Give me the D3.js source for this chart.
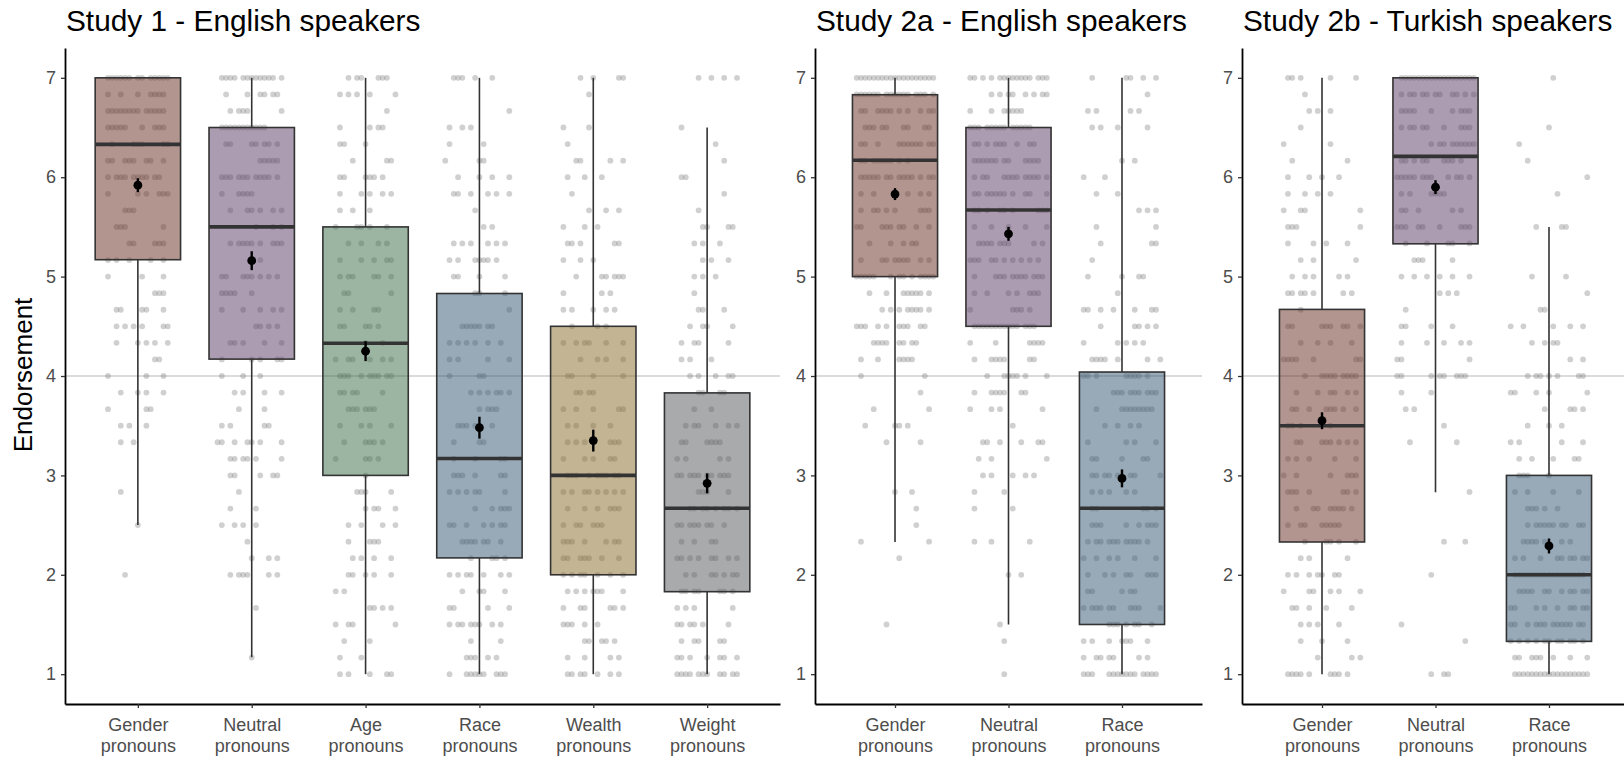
<!DOCTYPE html>
<html><head><meta charset="utf-8">
<script src="https://cdn.jsdelivr.net/npm/d3@7"></script>
<style>
body{margin:0;background:#fff;}
text{font-family:"Liberation Sans",Arial,Helvetica,sans-serif;}
</style>
</head><body>
<svg id="chart" width="1624" height="760"></svg>
<script>
// ---------------- DATA ----------------
const yTicks = [1, 2, 3, 4, 5, 6, 7];
const referenceValue = 4;
const yAxisTitle = "Endorsement";
const panelTitles = ["Study 1 - English speakers", "Study 2a - English speakers", "Study 2b - Turkish speakers"];

const categories1 = ["Gender pronouns", "Neutral pronouns", "Age pronouns", "Race pronouns", "Wealth pronouns", "Weight pronouns"];
const categories2a = ["Gender pronouns", "Neutral pronouns", "Race pronouns"];
const categories2b = ["Gender pronouns", "Neutral pronouns", "Race pronouns"];

// box statistics (Study 1)
const q3Study1 = [7.0, 6.5, 5.5, 4.83, 4.5, 3.83];
const medianStudy1 = [6.33, 5.5, 4.33, 3.17, 3.0, 2.67];
const q1Study1 = [5.17, 4.17, 3.0, 2.17, 2.0, 1.83];
const whiskerHighStudy1 = [7, 7, 7, 7, 7, 6.5];
const whiskerLowStudy1 = [2.5, 1.17, 1, 1, 1, 1];
const meanStudy1 = [5.92, 5.16, 4.25, 3.48, 3.35, 2.92];
const seStudy1 = [0.07, 0.095, 0.1, 0.11, 0.11, 0.1];

// Study 2a
const q3Study2a = [6.83, 6.5, 4.04];
const medianStudy2a = [6.17, 5.67, 2.67];
const q1Study2a = [5.0, 4.5, 1.5];
const whiskerHighStudy2a = [7, 7, 7];
const whiskerLowStudy2a = [2.33, 1.5, 1];
const meanStudy2a = [5.83, 5.43, 2.97];
const seStudy2a = [0.06, 0.07, 0.09];

// Study 2b
const q3Study2b = [4.67, 7.0, 3.0];
const medianStudy2b = [3.5, 6.21, 2.0];
const q1Study2b = [2.33, 5.33, 1.33];
const whiskerHighStudy2b = [7, 7, 5.5];
const whiskerLowStudy2b = [1, 2.83, 1];
const meanStudy2b = [3.55, 5.9, 2.29];
const seStudy2b = [0.085, 0.07, 0.075];

const categoryColors = {Gender: "#672b1f", Neutral: "#573963", Age: "#396b45", Race: "#315371", Wealth: "#876b27", Weight: "#515557"};

// Raw responses: row i = response value 7 - i/6 (7 down to 1); numbers = jitter slot (0..20, 10 = centre)
const dotsGender1 = [[3,4,5,6,7,8,10,11,13,14,15,16,17],[3,6,10,13,14,15,16],[3,4,5,6,7,8,9,10,12,13,14,15,16],[3,4,5,6,7,11,14,15,16],[4,9,10,11,16,17],[3,4,7,8,9,12,13,16],[3,5,6,7,9,10,11,12,14,15],[3,10,12,15,16,17],[7,8,9],[5,6,7,16],[8,9,14,15,16],[3,5,8,13,16],[3,11,16],[14,15,16],[5,6,11,12,16],[5,7,9,11,16,17],[5,10,12,14,17],[14,15],[3,12,16],[6,10,12,16],[3,12,13],[6,8,12],[6,9],[],[],[6],[],[10],[],[],[7],[],[],[],[],[],[]];
const dotsNeutral1 = [[3,4,5,6,8,9,10,11,12,13,14,15,17],[4,9,12,13,15,16],[5,7,8,9,17],[3,4,5,6,7,8,9,10,11,12,13],[4,5,10,11,13,14,16],[12,13,14,15,16],[3,4,5,7,8,9,11,12,13,14,16],[3,7,8,9,10],[5,9,10,12,15,17],[11,15,17],[5,7,8,9,10,12,15,16,17],[12],[3,4,8,9,10,12,14,16],[3,4,5,6,10],[3,8,12,15,17],[11,12,14,16],[5,6,8,13,17],[3,10,12,16,17],[3,8,12],[6,8,13,17],[7,13],[3,5,13,14],[2,3,6,9,10,12,17],[5,6,8,9,11,17],[5,6,12,15,16],[7],[5,11],[3,6,8,11],[9],[10,14,16],[5,7,8,9,14,16],[],[11],[],[],[10],[]];
const dotsAge1 = [[6,8,9,13,14,15],[4,6,8,11,17],[15],[4,11,13,14],[4,5,10],[7,15,16],[4,5,10,11,12,14],[4,9,11,14,16],[4,7,11],[3,8,9,11,15],[6,9,13,15],[4,9,12,15,16],[4,6,7,12,13,16],[5,6,16],[4,7,12,13],[4,5,10,11,13],[10,14],[3,6,7,11,14,16],[4,5,6,9,11,12,13,15,16],[4,5,7,8,14],[6,7,8,10,11,12],[4,9,11,16],[5,10,11,12,14],[3,10,11,13],[10],[8,9,10,16],[10,12,13,17],[6,9,14,17],[6,11,12,13],[7,9,12,16],[6,7,10,12,16],[3,5],[11,12,14,16],[3,6,7,17],[5,11],[4,9],[4,6,11,15,16]];
const dotsRace1 = [[4,5,6,9,13],[],[17],[3,6,8],[3,11],[2,10,11],[5,10,13,17],[4,5,8,12,14,17],[9],[11,13],[4,6,8,12,14,16],[3,5,9,10,11,12,14],[4,5,10,16],[9,10,16],[17],[6,7,8,9,10,12,13],[3,5,7,9,12,15],[3,5,12,17],[3,10,11],[8,10,12,14,15,17],[10,12,13,14],[5,6,7,9,13],[4,10,11],[4,9,15,16],[4,5,6,9,15,16],[3,5,7,9,10,16],[9,13,15,16,17],[3,4,7,11,13,15,16],[6,7,8,9,11,12,15],[8,13,14,16],[3,5,7,8,11,15,17],[6,10,11,16],[3,4,12,17],[3,5,6,8,9,10,13,15],[8,15],[7,8,9,12,14],[3,7,8,9,10,11,14,15,16]];
const dotsWealth1 = [[7,10,16,17],[9],[],[3,9],[4],[6,7,14,17],[4,8,12],[5],[9,13,16],[3,8,11],[4,5,7,15,16],[3,7,10],[6,12,13,15,16,17],[3,12,14],[3,5,10,13,15],[5,11,13],[3,6,8,9,13,17],[7,11,13,17],[4,5,10,17],[6,7,9,10],[3,6,10,16,17],[4,6,10,14],[4,6,8,14,15,16],[3,8,10,14,15],[4,5,6,9,11,12,13,15,16],[3,5,8,9,11,13,15,17],[4,8,11,14,15,16],[3,6,7,10,11,12],[3,4,5,8,13,15,16],[3,4,7,8,9,12,16],[3,5,7,8,11,14,17],[4,6,8,10,11,12,17],[3,7,8,14,15,17],[3,4,5,8,11],[8,9,12,13,15],[4,8,14,16],[4,5,7,8,11,14,16]];
const dotsWeight1 = [[8,11,14,17],[],[],[4],[12],[14],[4,5],[14],[8],[9,10,15,16],[7,9,13],[9,11,15],[7,9,12],[7],[8,9,14],[6,9,10,16],[4,7,8,15],[4,6,11],[6,8,12,15,16],[8,9,13,14],[7,11],[5,7,8,12,15,17],[4,5,10,11,12,13],[3,5,13,15],[3,4,6,7,8,10,11,13,14,15],[8,9,10,15],[6,7,9,10,12,14,15,17],[3,4,6,7,8,10,11,14],[4,7,11,12],[3,4,6,8,11,12,15,17],[5,7,11,12,14,16,17],[4,5,7,8,13,14,16],[3,5,7,16],[3,4,6,7,9,15],[4,7,8,13,14],[3,4,6,10,13,14,17],[3,4,5,6,8,9,10,13,14,16,17]];

const dotsGender2a = [[1,2,3,4,5,6,7,8,9,10,11,12,13,14,15,16,17,18,19],[1,2,3,4,5,6,8,9,10,11,12,13,15,16,17,19],[2,3,6,7,8,9,11,13,16,18,19],[3,4,5,7,8,12,13,17,18],[2,3,6,11,12,13,14,15,16,18,19],[2,3,5,6,7,8,9,11,13],[2,3,4,5,6,8,9,11,12,13,14,16,18,19],[2,5,10,13,16,18],[2,5,6,8,10,16,17,18],[1,2,7,8,9,11,12,15,18],[4,9,12,14,15],[2,7,8,10,11,12,13,16,18],[1,2,3,4,5,9,11,12,14,16,17,18,19],[4,8,12,13,14,15,16,18],[7,9,11,13,14,15,16,18],[1,2,3,6,8,11,12,13,16,17],[5,6,7,8,11,12,14,15],[2,6,11,12,13,14],[2,17],[16],[5,18],[3,10,11,13],[8,16],[],[],[10,14],[15],[15],[2,18],[11],[],[],[],[8],[],[],[]];
const dotsNeutral2a = [[1,2,4,6,8,9,10,11,12,13,14,15,17,18,19],[6,8,10,11,14,16,18,19],[1,6,9,10,11,12,13],[1,2,3,5,6,7,8,9,11,12,13,14,15],[2,3,5,7,8,9,12,15,16],[2,3,4,5,6,7,9,10,14,15,16,17],[2,4,5,9,10,11,12,14,15,16,17,19],[2,3,5,6,7,8,9,11,14,15,19],[2,3,5,8,9,11,17,18,19],[2,6,10,14,19],[3,4,5,6,8,9,10,16,18],[1,2,3,6,7,9,11,13,15,17],[2,7,8,9,11,12,13,14,16,17,18],[2,5,10,12,15,16,17],[1,11,12,13,15],[2,3,4,5,6,7,8,9,10,11,12,14,15,16],[1,7,15,16,17,18],[2,6,7,8,9,15,16],[5,9,10,11,12,14,19],[2,6,7,8,9,13,14],[1,6,8,18],[11],[4,5,8,13,17,18],[3,6,19],[4,6,11,14,16],[2,9],[2,11],[],[2,6,15],[],[10,13],[],[],[8],[9],[],[9]];
const dotsRace2a = [[3,11,12,15,18],[16],[2,4,12,14],[3,5,9,16],[],[10,13],[1,6],[4,9],[14,16,18],[4,18],[5,17,18],[3],[2,10,14,15],[9],[1,2,5,8,13,17,18],[5,13,14,16,18],[1,9,11,13,15],[3,4,5,6,9,16,19],[1,2,4,11,12,13,14,16],[8,9,10,12,13,14,16,17,18],[4,10,11,12,13,14,15,16,17],[6,9,12,14],[2,11,13,18],[3,4,10,15,16],[3,4,6,7,9,12,13,19],[3,5,7,11,13],[3,4,15,16,18],[3,4,5,11,14,16,17,18],[2,4,5,7,8,9,11,12,13,14,16],[1,4,7,9,13,18],[2,6,8,11,12,16,17,18],[2,3,10,12,13],[1,3,4,5,7,8,12,13,14,19],[7,8,9,11,13,14,17],[1,3,7,10,11,12,16],[1,4,5,7,8,14,16],[1,2,3,7,8,9,10,11,12,13,15,16,17,18]];

const dotsGender2b = [[2,3,5,12,18],[6],[7,9,12],[5],[1,12],[3,16],[2,7,10,14],[2,6,9,12],[1,5,6,19],[2,3,4,19],[2,8,11,16],[5,8,18],[3,6,8,14,16],[2,3,5,6,8,15,17],[5],[2,3,10,11,12,15,16,19],[5,9,12,17],[1,2,3,4,8,18,19],[6,10,11,12,13,15,16,17,18],[4,9,12,13,16,18],[3,4,7,11,12,13,15,18],[2,3,5,12],[4,5,10,11,12,14,16,18],[2,4,7,13,18],[1,4,12,16,17,18],[2,3,4,7,15,16,18],[4,8,9,12,13,14,15,17],[2,5,6,10,11,12,13,14],[6,11,12,14,18],[5,7,16],[2,4,7,9,10,13,14],[1,7,8,12,14,19],[3,4,7,11,17],[5,7,9,14],[5,10,16],[9,17,19],[2,3,4,5,7,12,13,14,16]];
const dotsNeutral2b = [[2,3,4,5,6,7,8,9,10,11,12,13,14,15,16,17,18,19],[2,4,5,7,8,10,11,14,15,17,19],[2,3,4,5,9,14,16,17,18],[2,4,5,7,8,12,16,17,18],[9,11,12,14,15,16,17,18,19],[2,3,5,7,8,12,13,14,16],[1,2,3,4,5,7,8,9,13,15,16,18],[2,4,9,10,11,12],[2,3,6,14,16],[1,2,3,6,7,11,16,17,18],[3,8,13,14,18],[5,6,7,14],[2,5,8,11,14,18],[11,13,15],[3],[2,3,9,14],[2,8,12,16,18],[1,2,18],[1,2,9,11,12,15,16,17],[2,9],[3,5],[12],[4,15],[],[],[18],[],[],[12,17],[],[9],[],[],[2],[17],[],[9,12,13]];
const dotsRace2b = [[11],[],[],[10],[3],[5],[19],[12],[],[7,13,14],[],[],[6,14],[19],[8,9],[1,4,11,15,18],[6,9,11,12],[15,18],[5,7,8,10,12,17,18],[1,2,7,10,19],[9,15,16,18],[5,10,13],[1,3,13,18],[3,6,11,16,17],[3,4,5,10],[2,5,11,17],[5,6,7,9,12],[5,7,8,9,10,11,13,14,17,18],[4,5,6,7,9,13,15],[2,4,8,12,13,15,16,18,19],[2,3,4,5,6,7,8,9,10,11,12,13,14,15,16,17,18],[3,4,5,6,9,10,13,15,16,18,19],[1,2,7,9,12,15,16,18,19],[1,2,5,7,8,9,11,12,13,14,15,17,18],[1,3,5,7,9,10,12,13,15,16,18],[2,3,6,7,8,11,15,19],[2,3,4,5,6,7,8,9,10,11,12,13,14,15,16,17,18,19]];

// ---------------- BUILD ----------------
function buildRows(cats, q1, med, q3, wl, wh, mean, se, dots) {
  return cats.map((c, i) => ({cat: c, key: c.split(" ")[0], q1: q1[i], median: med[i], q3: q3[i],
    low: wl[i], high: wh[i], mean: mean[i], se: se[i], dots: dots[i]}));
}
const panels = [
  {title: panelTitles[0], x0: 65, x1: 780, pad: 0.64,
   rows: buildRows(categories1, q1Study1, medianStudy1, q3Study1, whiskerLowStudy1, whiskerHighStudy1, meanStudy1, seStudy1,
     [dotsGender1, dotsNeutral1, dotsAge1, dotsRace1, dotsWealth1, dotsWeight1])},
  {title: panelTitles[1], x0: 815, x1: 1202, pad: 0.705,
   rows: buildRows(categories2a, q1Study2a, medianStudy2a, q3Study2a, whiskerLowStudy2a, whiskerHighStudy2a, meanStudy2a, seStudy2a,
     [dotsGender2a, dotsNeutral2a, dotsRace2a])},
  {title: panelTitles[2], x0: 1242, x1: 1629, pad: 0.705,
   rows: buildRows(categories2b, q1Study2b, medianStudy2b, q3Study2b, whiskerLowStudy2b, whiskerHighStudy2b, meanStudy2b, seStudy2b,
     [dotsGender2b, dotsNeutral2b, dotsRace2b])}
];

const svg = d3.select("#chart");
const yTop = 48, yBottom = 704;
const y = d3.scaleLinear().domain([0.7, 7.3]).range([yBottom, yTop]);

svg.append("text").attr("transform", `translate(32,${(yTop + yBottom) / 2 - 1}) rotate(-90)`)
  .attr("text-anchor", "middle").attr("font-size", 26).attr("fill", "#000").text(yAxisTitle);

panels.forEach(p => {
  const x = d3.scalePoint().domain(p.rows.map(r => r.cat)).range([p.x0, p.x1]).padding(p.pad);
  const step = x.step();
  const boxW = 0.75 * step, hw = boxW / 2;
  const g = svg.append("g");

  // title
  g.append("text").attr("x", p.x0 + 1).attr("y", 31).attr("font-size", 29.8).attr("fill", "#000").text(p.title);

  // reference line
  g.append("line").attr("x1", p.x0).attr("x2", p.x1).attr("y1", y(referenceValue)).attr("y2", y(referenceValue))
    .attr("stroke", "#b8b8b8").attr("stroke-width", 1.1);

  // dots
  const pts = [];
  p.rows.forEach(r => {
    r.dots.forEach((slots, i) => {
      const v = 7 - i / 6;
      slots.forEach(s => pts.push({x: x(r.cat) + (s - 10) / 10 * hw, v}));
    });
  });
  g.append("g").selectAll("circle").data(pts).join("circle")
    .attr("cx", d => d.x).attr("cy", d => y(d.v)).attr("r", 2.9)
    .attr("fill", "#8a8a8a").attr("fill-opacity", 0.4);

  const b = g.append("g").selectAll("g").data(p.rows).join("g");
  // whiskers
  b.append("line").attr("x1", d => x(d.cat)).attr("x2", d => x(d.cat))
    .attr("y1", d => y(d.q3)).attr("y2", d => y(d.high)).attr("stroke", "#333").attr("stroke-width", 1.6);
  b.append("line").attr("x1", d => x(d.cat)).attr("x2", d => x(d.cat))
    .attr("y1", d => y(d.q1)).attr("y2", d => y(d.low)).attr("stroke", "#333").attr("stroke-width", 1.6);
  // boxes
  b.append("rect").attr("x", d => x(d.cat) - hw).attr("width", boxW)
    .attr("y", d => y(d.q3)).attr("height", d => y(d.q1) - y(d.q3))
    .attr("fill", d => categoryColors[d.key]).attr("fill-opacity", 0.5)
    .attr("stroke", "#333").attr("stroke-width", 1.6);
  // median
  b.append("line").attr("x1", d => x(d.cat) - hw).attr("x2", d => x(d.cat) + hw)
    .attr("y1", d => y(d.median)).attr("y2", d => y(d.median)).attr("stroke", "#333").attr("stroke-width", 3.6);
  // mean + error bar
  b.append("line").attr("x1", d => x(d.cat)).attr("x2", d => x(d.cat))
    .attr("y1", d => y(d.mean - d.se)).attr("y2", d => y(d.mean + d.se)).attr("stroke", "#000").attr("stroke-width", 2.4);
  b.append("circle").attr("cx", d => x(d.cat)).attr("cy", d => y(d.mean)).attr("r", 4.4).attr("fill", "#000");

  // axes
  const ya = g.append("g").attr("transform", `translate(${p.x0},0)`)
    .call(d3.axisLeft(y).tickValues(yTicks).tickSize(4).tickSizeOuter(0).tickPadding(5).tickFormat(d3.format("d")));
  ya.select(".domain").attr("stroke", "#000").attr("stroke-width", 1.8);
  ya.selectAll(".tick line").attr("stroke", "#333").attr("stroke-width", 1.3);
  ya.selectAll(".tick text").attr("font-size", 18).attr("fill", "#4d4d4d").style("font-family", "Liberation Sans, Arial, sans-serif");

  const xa = g.append("g").attr("transform", `translate(0,${yBottom})`)
    .call(d3.axisBottom(x).tickSize(4).tickSizeOuter(0));
  xa.select(".domain").attr("stroke", "#000").attr("stroke-width", 1.8);
  xa.selectAll(".tick line").attr("stroke", "#333").attr("stroke-width", 1.3);
  xa.selectAll(".tick text").each(function(d) {
    const t = d3.select(this);
    t.text(null).attr("dy", null).attr("y", null).attr("font-size", 18).attr("fill", "#4d4d4d")
      .style("font-family", "Liberation Sans, Arial, sans-serif");
    const parts = d.split(" ");
    t.append("tspan").attr("x", 0).attr("y", 27).text(parts[0]);
    t.append("tspan").attr("x", 0).attr("y", 48).text(parts[1]);
  });
});
</script>
</body></html>
